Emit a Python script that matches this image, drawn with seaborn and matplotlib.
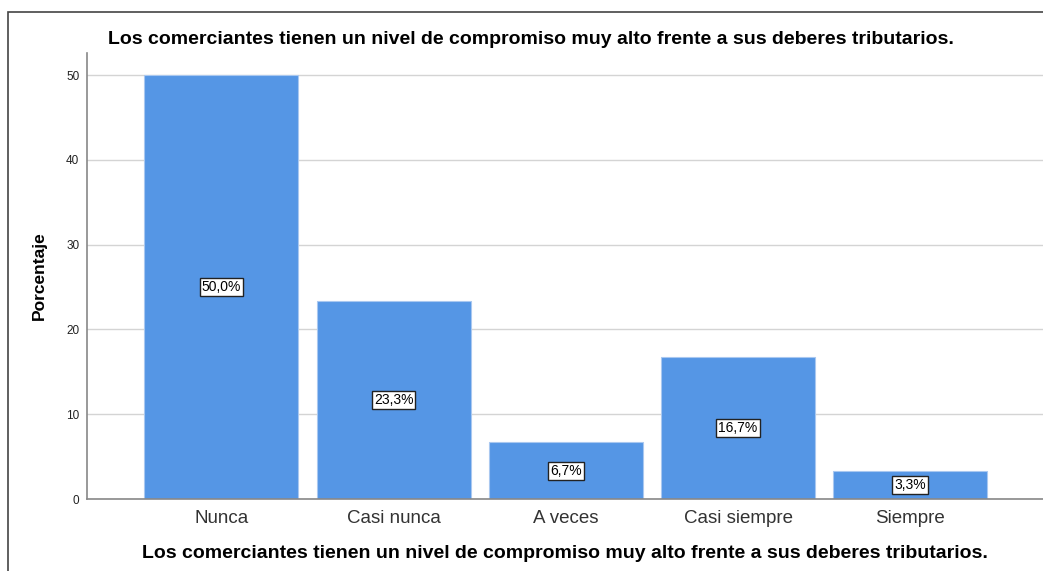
import matplotlib
matplotlib.use("Agg")
import matplotlib.pyplot as plt
import matplotlib.patches as mpatches
import seaborn as sns
import pandas as pd

categories = ["Nunca", "Casi nunca", "A veces", "Casi siempre", "Siempre"]
percentages = [50.0, 23.3, 6.7, 16.7, 3.3]
labels = ["50,0%", "23,3%", "6,7%", "16,7%", "3,3%"]
title = "Los comerciantes tienen un nivel de compromiso muy alto frente a sus deberes tributarios."

sns.set_theme(style="white")
plt.rcParams["font.family"] = ["Liberation Sans", "DejaVu Sans"]

df = pd.DataFrame({"categoria": categories, "porcentaje": percentages})

fig = plt.figure(figsize=(10.43, 5.71), dpi=100)
ax = fig.add_axes([87 / 1043, 1 - 499 / 571, (1043 - 87) / 1043, (499 - 53) / 571])

sns.barplot(data=df, x="categoria", y="porcentaje", color="#5596E5",
            saturation=1, width=0.894, edgecolor="#A9C8F0", linewidth=0.8, ax=ax)

for i, (v, lab) in enumerate(zip(percentages, labels)):
    ax.text(i, v / 2, lab, ha="center", va="center", fontsize=10, color="black",
            bbox=dict(boxstyle="square,pad=0.15", fc="white", ec="#222222", lw=1))

ax.set_xlim(-0.78, 4.77)
ax.set_ylim(0, 52.6)
ax.set_yticks([0, 10, 20, 30, 40, 50])
ax.yaxis.grid(True, color="#D4D4D4", linewidth=1)
ax.set_axisbelow(True)
ax.tick_params(axis="y", labelsize=8.5, labelcolor="#222222", length=0, pad=5.5)
ax.tick_params(axis="x", labelsize=13.5, labelcolor="#333333", length=0, pad=8)

for side in ["top", "right"]:
    ax.spines[side].set_visible(False)
for side in ["left", "bottom"]:
    ax.spines[side].set_color("#888888")
    ax.spines[side].set_linewidth(1.2)

ax.set_xlabel(title, fontsize=14, fontweight="bold", color="black", labelpad=13)
ax.set_ylabel("Porcentaje", fontsize=12.5, fontweight="bold", color="black", labelpad=14)

fig.text(531 / 1043, 1 - 40 / 571, title, ha="center", va="center",
         fontsize=14, fontweight="bold", color="black")

# outer frame of the original export
fig.patches.append(mpatches.Rectangle((8 / 1043, -0.1), 1.2, 1 - 12 / 571 + 0.1,
                                      transform=fig.transFigure, fill=False,
                                      edgecolor="#444444", linewidth=1.2))

fig.savefig("out.png", dpi=100)
